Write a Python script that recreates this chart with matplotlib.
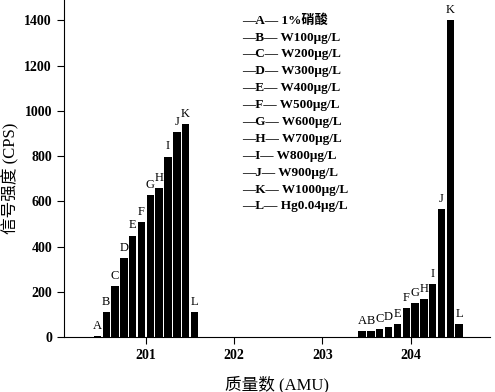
import numpy as np
import matplotlib.pyplot as plt

plt.rcParams['font.family'] = ['Liberation Serif', 'Noto Sans CJK SC']
plt.rcParams['axes.unicode_minus'] = False

# 样品标记及名称
letters = ["A", "B", "C", "D", "E", "F", "G", "H", "I", "J", "K", "L"]
samples = ["1%硝酸", "W100μg/L", "W200μg/L", "W300μg/L", "W400μg/L", "W500μg/L",
           "W600μg/L", "W700μg/L", "W800μg/L", "W900μg/L", "W1000μg/L", "Hg0.04μg/L"]

# 质量数 201 和 204 处的信号强度
cps_201 = [6, 110, 224, 349, 449, 510, 626, 660, 798, 906, 940, 112]
cps_204 = [28, 26, 37, 44, 56, 127, 150, 169, 234, 567, 1400, 57]

x_ticks = [201, 202, 203, 204]
y_ticks = [0, 200, 400, 600, 800, 1000, 1200, 1400]

fig = plt.figure(figsize=(4.95, 3.92), dpi=100)
ax = fig.add_axes([0.129, 0.140, 0.861, 0.860])

offs = np.arange(len(letters)) * 0.1
x201 = 200.45 + offs
x204 = 203.45 + offs

for xs, vals in [(x201, cps_201), (x204, cps_204)]:
  ax.bar(xs, vals, width=0.084, color="black")
  for x, v, lab in zip(xs, vals, letters):
    ax.annotate(lab, (x, v), xytext=(0, 3), textcoords="offset points",
                ha="center", va="bottom", fontsize=9)

ax.set_xlim(200.07, 204.9)
ax.set_ylim(0, 1490)
ax.set_xticks(x_ticks)
ax.set_yticks(y_ticks)
ax.tick_params(direction="out", labelsize=10, length=5)
for t in ax.get_xticklabels() + ax.get_yticklabels():
  t.set_fontweight("bold")
ax.spines["top"].set_visible(False)
ax.spines["right"].set_visible(False)

ax.set_xlabel("质量数 (AMU)", fontsize=12, labelpad=10)
ax.set_ylabel("信号强度 (CPS)", fontsize=12, va="center")
ax.yaxis.set_label_coords(-0.126, 0.47)

# 图例文本
for i, (lab, name) in enumerate(zip(letters, samples)):
  ax.text(0.418, 0.9386 - i * 0.0501, f"—{lab}— {name}",
          transform=ax.transAxes, fontsize=9.5, fontweight="bold",
          va="center", ha="left")

fig.savefig("out.png", dpi=100)
